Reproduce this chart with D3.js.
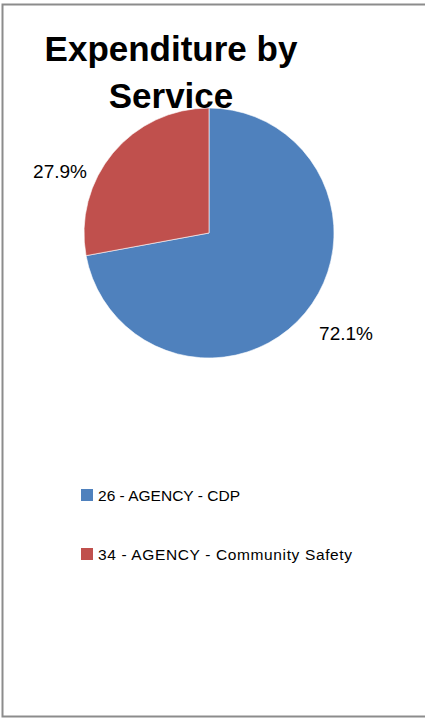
<!DOCTYPE html>
<html><head><meta charset="utf-8">
<script src="https://cdn.jsdelivr.net/npm/d3@7/dist/d3.min.js"></script>
<style>html,body{margin:0;padding:0;background:#fff;}svg{display:block;}</style>
</head><body>
<script>
const categories = ["26 - AGENCY - CDP", "34 - AGENCY - Community Safety"];
const values = [72.1, 27.9];
const labels = ["72.1%", "27.9%"];
const colors = ["#4F81BD", "#C0504D"];
const titleLines = ["Expenditure by", "Service"];

const W = 425, H = 718;
const svg = d3.select("body").append("svg").attr("width", W).attr("height", H);

svg.append("rect").attr("x", 2.5).attr("y", 4.5).attr("width", 440).attr("height", 712)
  .attr("fill", "#fff").attr("stroke", "#8c8c8c").attr("stroke-width", 2);

const cx = 209, cy = 233, r = 125;
const pie = d3.pie().sort(null).value(d => d);
const arcs = pie(values);
const arc = d3.arc().innerRadius(0).outerRadius(r);

const g = svg.append("g").attr("transform", `translate(${cx},${cy})`);
g.selectAll("path").data(arcs).join("path")
  .attr("d", arc).attr("fill", (d, i) => colors[i])
  .attr("stroke", "#fff").attr("stroke-width", 0.6);

// data labels outside
const labelPos = [[346 - cx, 340 - cy], [60 - cx, 178 - cy]];
g.selectAll("text.lbl").data(arcs).join("text").attr("class", "lbl")
  .attr("x", (d, i) => labelPos[i][0]).attr("y", (d, i) => labelPos[i][1])
  .attr("text-anchor", "middle")
  .attr("font-family", "Liberation Sans, Arial, sans-serif")
  .attr("font-size", 19).attr("fill", "#000")
  .text((d, i) => labels[i]);

// title
svg.append("g").selectAll("text").data(titleLines).join("text")
  .attr("x", 171).attr("y", (d, i) => 61 + i * 47)
  .attr("text-anchor", "middle")
  .attr("font-family", "Liberation Sans, Arial, sans-serif")
  .attr("font-weight", "bold").attr("font-size", 35).attr("fill", "#000")
  .text(d => d);

// legend
const legendTextWidths = [142, 254];
const leg = svg.append("g");
const li = leg.selectAll("g").data(categories).join("g")
  .attr("transform", (d, i) => `translate(81,${489 + i * 59})`);
li.append("rect").attr("width", 12).attr("height", 12).attr("fill", (d, i) => colors[i]);
li.append("text").attr("x", 17).attr("y", 12)
  .attr("font-family", "Liberation Sans, Arial, sans-serif")
  .attr("font-size", 15.5).attr("fill", "#000")
  .attr("textLength", (d, i) => legendTextWidths[i]).attr("lengthAdjust", "spacing")
  .text(d => d);
</script>
</body></html>
